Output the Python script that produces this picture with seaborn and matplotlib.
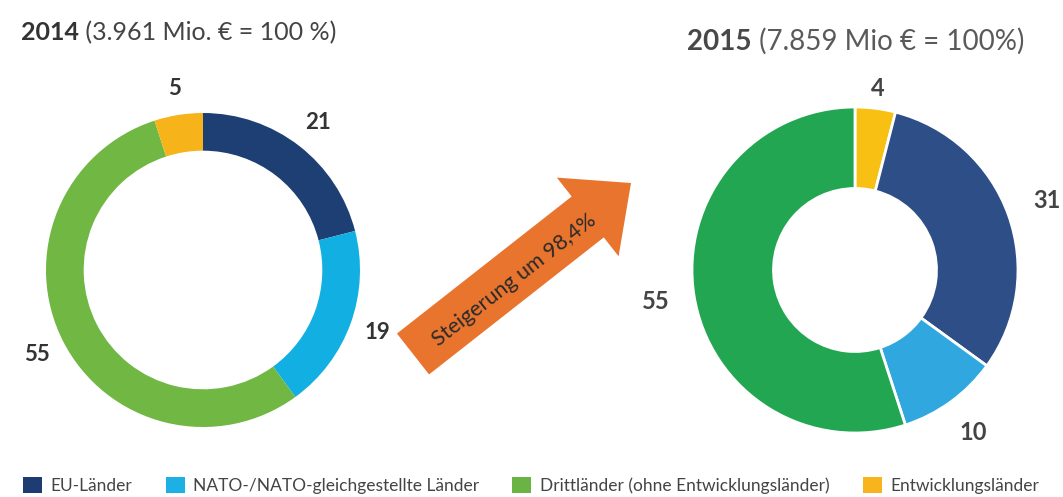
import numpy as np
import matplotlib.pyplot as plt
import seaborn as sns
from matplotlib.patches import FancyArrow, Patch

categories = ["EU-Länder", "NATO-/NATO-gleichgestellte Länder",
              "Drittländer (ohne Entwicklungsländer)", "Entwicklungsländer"]
values_2014 = [21, 19, 55, 5]
values_2015 = [31, 10, 55, 4]
# 2015 ring starts with the developing countries at 12 o'clock
order_2015 = [3, 0, 1, 2]

colors_2014 = ["#1d3f73", "#12b0e2", "#70b744", "#f6b31a"]
colors_2015 = ["#2e4e88", "#30a8df", "#22a651", "#f8c012"]
legend_colors = ["#1e3c72", "#1cb0e4", "#6ab445", "#f8b41c"]

W, H = 1063, 497
TXT = "#333333"

sns.set_theme(style="white")
plt.rcParams["font.family"] = ["Lato", "DejaVu Sans"]

fig = plt.figure(figsize=(W / 100, H / 100), dpi=100)

# background axes in pixel units for arrow and titles
bg = fig.add_axes([0, 0, 1, 1])
bg.set_xlim(0, W)
bg.set_ylim(H, 0)
bg.axis("off")


def donut(cx, cy, r, half, vals, cols, width, edge, dists, fsize, tcolor):
    ax = fig.add_axes([(cx - half) / W, (H - cy - half) / H, 2 * half / W, 2 * half / H])
    wedges, _ = ax.pie(vals, colors=cols, startangle=90, counterclock=False,
                       wedgeprops=dict(width=width, edgecolor=edge[0], linewidth=edge[1]))
    lim = half / r
    ax.set_xlim(-lim, lim)
    ax.set_ylim(-lim, lim)
    ax.axis("off")
    for w, v, d in zip(wedges, vals, dists):
        ang = np.deg2rad((w.theta1 + w.theta2) / 2)
        ax.text(d * np.cos(ang), d * np.sin(ang), f"{v}", ha="center", va="center",
                fontsize=fsize, fontweight="bold", color=tcolor)
    return ax


donut(203, 270, 157, 200, values_2014, colors_2014, 0.24, ("none", 0),
      [1.19, 1.18, 1.19, 1.17], 16, TXT)

vals_r = [values_2015[i] for i in order_2015]
cols_r = [colors_2015[i] for i in order_2015]
donut(855, 270, 163, 210, vals_r, cols_r, 0.5, ("white", 2),
      [1.12, 1.25, 1.23, 1.24], 17, "#444444")

# titles
t1 = bg.text(21, 44, "2014", fontsize=18, fontweight="bold", color=TXT, va="bottom")
bg.annotate(" (3.961 Mio. € = 100 %)", xy=(1, 0), xycoords=t1, va="bottom",
            fontsize=18, color="#444444")
t2 = bg.text(687, 55, "2015", fontsize=20, fontweight="bold", color="#484848", va="bottom")
bg.annotate(" (7.859 Mio € = 100%)", xy=(1, 0), xycoords=t2, va="bottom",
            fontsize=20, color="#5a5a5a")

# arrow
bg.add_patch(FancyArrow(413, 354, 218, -171, width=52, head_width=100,
                        head_length=55, length_includes_head=True,
                        color="#e8742e", linewidth=0))
bg.text(514, 280, "Steigerung um 98,4%", rotation=38, rotation_mode="anchor",
        ha="center", va="center", fontsize=15.5, color="#2a2a2a")

handles = [Patch(facecolor=c, edgecolor="none") for c in legend_colors]
fig.legend(handles, categories, loc="lower left", bbox_to_anchor=(23 / W, 3 / H),
           ncol=4, frameon=False, fontsize=12.5, handlelength=1.1, handleheight=1.1,
           handletextpad=0.5, columnspacing=1.9, borderpad=0, borderaxespad=0,
           labelcolor="#444444")

fig.savefig("out.png", dpi=100)
